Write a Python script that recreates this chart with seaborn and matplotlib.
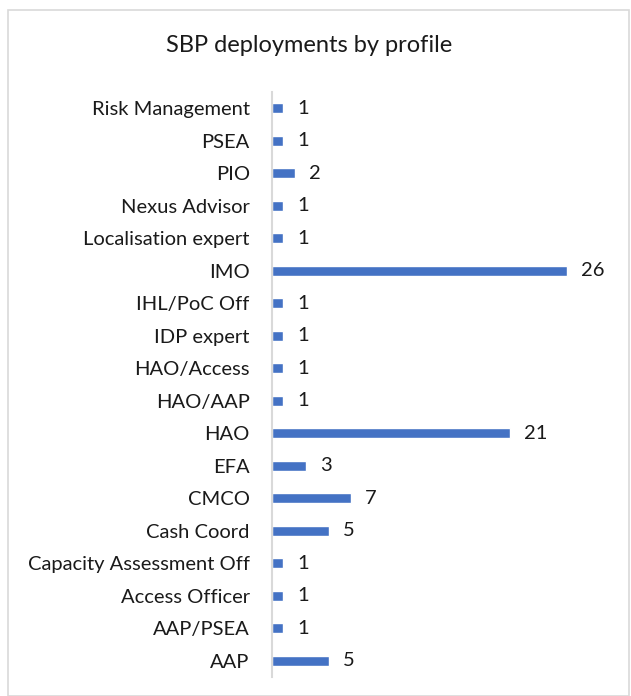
import matplotlib
matplotlib.use("Agg")
import matplotlib.pyplot as plt
import seaborn as sns
import pandas as pd
from matplotlib.patches import Rectangle

categories = ["Risk Management", "PSEA", "PIO", "Nexus Advisor", "Localisation expert",
              "IMO", "IHL/PoC Off", "IDP expert", "HAO/Access", "HAO/AAP", "HAO", "EFA",
              "CMCO", "Cash Coord", "Capacity Assessment Off", "Access Officer",
              "AAP/PSEA", "AAP"]
values = [1, 1, 2, 1, 1, 26, 1, 1, 1, 1, 21, 3, 7, 5, 1, 1, 1, 5]
title = "SBP deployments by profile"

sns.set_theme(style="white")
plt.rcParams['font.family'] = ['Lato', 'DejaVu Sans']

df = pd.DataFrame({"profile": categories, "count": values})

fig = plt.figure(figsize=(6.31, 6.96), dpi=100)
ax = fig.add_axes([272/631, 1 - 677/696, (612 - 272)/631, (677 - 92)/696])
sns.barplot(data=df, y="profile", x="count", orient="h", order=categories,
            color="#4472C4", saturation=1, width=0.31, ax=ax)
ax.set_xlim(0, 30)
ax.set_ylim(len(categories) - 0.5, -0.5)
ax.set_xlabel("")
ax.set_ylabel("")
ax.set_xticks([])
for s in ["top", "right", "bottom"]:
    ax.spines[s].set_visible(False)
ax.spines["left"].set_color("#D9D9D9")
ax.spines["left"].set_linewidth(1.5)
ax.tick_params(axis="y", length=0, pad=16, labelsize=14.5, labelcolor="#1a1a1a")
for c in ax.containers:
    ax.bar_label(c, padding=10, fontsize=14.5, color="#1a1a1a")

fig.text(309/631, 1 - 46/696, title, ha="center", va="center", fontsize=17, color="#1a1a1a")
fig.patches.append(Rectangle((8/631, 0.0), (629 - 8)/631, 1 - 10/696, transform=fig.transFigure,
                             fill=False, edgecolor="#D9D9D9", linewidth=1.2))
fig.savefig("out.png", dpi=100)
